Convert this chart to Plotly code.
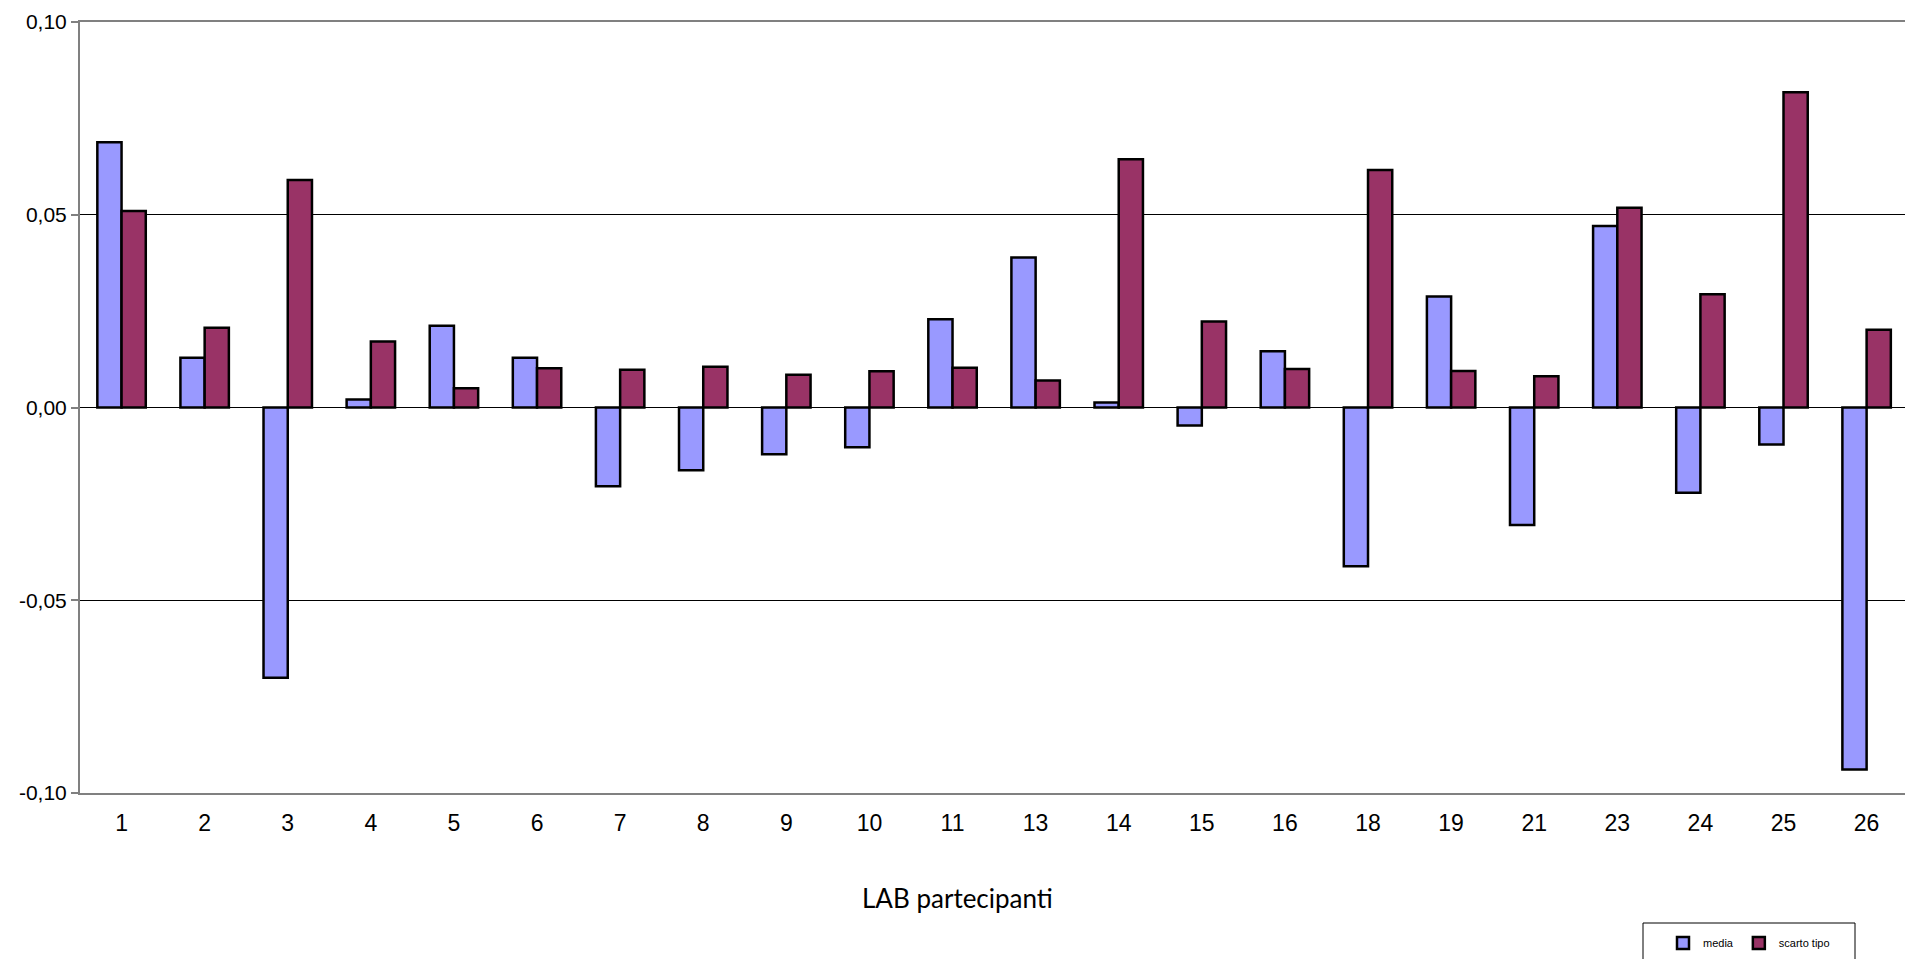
import plotly.graph_objects as go

# Laboratori partecipanti e statistiche per laboratorio
labs = ["1", "2", "3", "4", "5", "6", "7", "8", "9", "10", "11",
        "13", "14", "15", "16", "18", "19", "21", "23", "24", "25", "26"]
media = [0.0688, 0.0129, -0.0701, 0.0021, 0.0212, 0.0129, -0.0204, -0.0163,
         -0.0121, -0.0103, 0.0229, 0.0389, 0.0013, -0.0047, 0.0146, -0.0412,
         0.0288, -0.0305, 0.0471, -0.0221, -0.0096, -0.0939]
scarto_tipo = [0.0510, 0.0207, 0.0590, 0.0171, 0.0050, 0.0102, 0.0098, 0.0106,
               0.0085, 0.0094, 0.0103, 0.0070, 0.0644, 0.0223, 0.0100, 0.0616,
               0.0095, 0.0081, 0.0518, 0.0294, 0.0818, 0.0202]

y_ticks = [-0.10, -0.05, 0.00, 0.05, 0.10]
y_tick_text = ["-0,10", "-0,05", "0,00", "0,05", "0,10"]

W, H = 1905, 959
ML, MR, MT, MB = 80, 0, 22, 166
plot_w = W - ML - MR
plot_h = H - MT - MB

def px_x(px):
    return (px - ML) / plot_w

def px_y(py):
    return (H - MB - py) / plot_h

AX_GREY = "#808080"
TICK_FONT = "Arial, 'Liberation Sans', sans-serif"

fig = go.Figure()
fig.add_trace(go.Bar(
    x=labs, y=media, name="media",
    marker=dict(color="#9999FF", line=dict(color="black", width=2.5)),
))
fig.add_trace(go.Bar(
    x=labs, y=scarto_tipo, name="scarto tipo",
    marker=dict(color="#993366", line=dict(color="black", width=2.5)),
))

fig.update_layout(
    width=W, height=H,
    margin=dict(l=ML, r=MR, t=MT, b=MB, pad=0),
    paper_bgcolor="white", plot_bgcolor="white",
    barmode="group", bargap=0.417, bargroupgap=0,
    showlegend=True,
    legend=dict(
        orientation="h",
        x=px_x(1663), xanchor="left",
        y=px_y(943), yanchor="middle",
        font=dict(family=TICK_FONT, size=11, color="black"),
        bgcolor="rgba(0,0,0,0)", borderwidth=0,
        itemwidth=30,
    ),
    xaxis=dict(
        type="category",
        range=[-0.5, 21.462],
        showgrid=False, zeroline=False,
        showline=True, linecolor=AX_GREY, linewidth=2, mirror=True,
        ticks="", ticklabelstandoff=8,
        tickfont=dict(family=TICK_FONT, size=23, color="black"),
    ),
    xaxis2=dict(
        type="category",
        overlaying="x", matches="x",
        anchor="free", position=0.5,
        showgrid=False, zeroline=False,
        showline=True, linecolor=AX_GREY, linewidth=1.5,
        ticks="outside", tickson="boundaries", ticklen=7,
        tickcolor=AX_GREY, tickwidth=1.5,
        showticklabels=False,
        layer="below traces",
    ),
    yaxis=dict(
        range=[-0.10, 0.10],
        tickvals=y_ticks, ticktext=y_tick_text,
        showgrid=True, gridcolor="black", gridwidth=1,
        zeroline=False,
        showline=True, linecolor=AX_GREY, linewidth=2, mirror=False,
        ticks="outside", ticklen=7, tickcolor=AX_GREY, tickwidth=1.5,
        tickfont=dict(family=TICK_FONT, size=21, color="black"),
    ),
    font=dict(family=TICK_FONT, color="black"),
)

# Titolo dell'asse delle categorie
fig.add_annotation(
    text="LAB partecipanti", xref="paper", yref="paper",
    x=px_x(957), y=px_y(898), xanchor="center", yanchor="middle",
    showarrow=False,
    font=dict(family="Lato, 'Open Sans', sans-serif", size=26, color="black"),
)

# Cornice della legenda
fig.add_shape(
    type="rect", xref="paper", yref="paper",
    x0=px_x(1643), x1=px_x(1855), y0=px_y(975), y1=px_y(923),
    line=dict(color="black", width=1), fillcolor="rgba(0,0,0,0)",
)

fig.write_html("out.html")
